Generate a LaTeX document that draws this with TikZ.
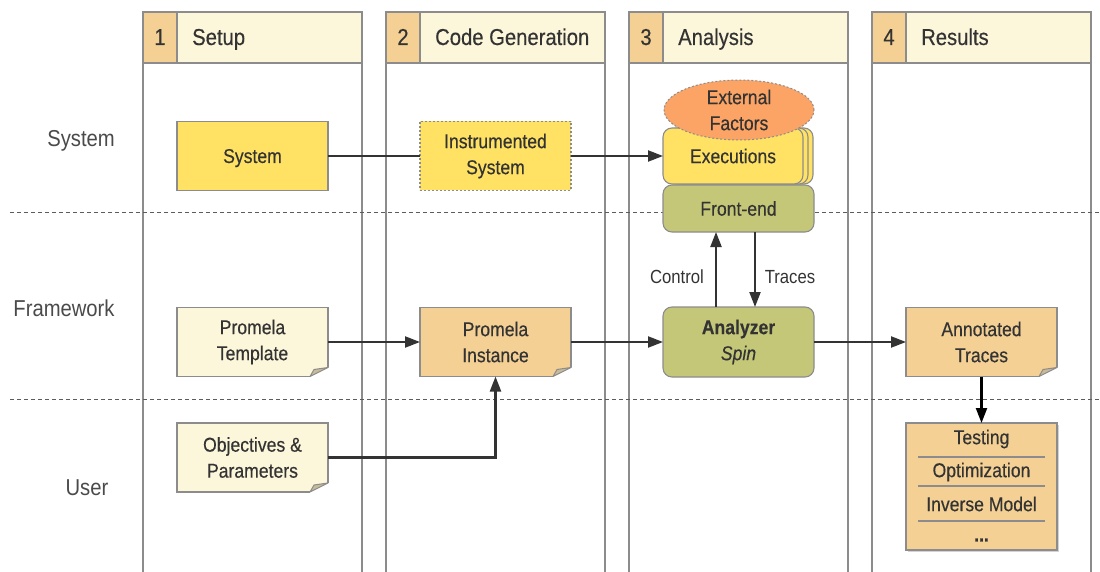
\documentclass[tikz,border=0pt]{standalone}
\usepackage{fontspec}
\setmainfont{Liberation Sans}[FakeStretch=0.88, FakeBold=0.35]
\newfontfamily\lightfont{Liberation Sans}[FakeStretch=0.88]
\usetikzlibrary{shapes.geometric,shadows,arrows.meta,calc}

\definecolor{ink}{HTML}{333333}
\definecolor{edge}{HTML}{8C8C8C}
\definecolor{cream}{HTML}{FCF6DA}
\definecolor{tan}{HTML}{F4D094}
\definecolor{yel}{HTML}{FFE264}
\definecolor{olive}{HTML}{C5C778}
\definecolor{salmon}{HTML}{FBA466}
\definecolor{foldc}{HTML}{C9BB98}
\definecolor{rowink}{HTML}{4A4A4A}

% folded page corner at the lower right of a note node
\newcommand\foldcorner[1]{%
  \fill[white] ($(#1.south east)+(-18,0)$) -- ($(#1.south east)+(0,-9)$)
     -- ($(#1.south east)+(1.6,-9)$) -- ($(#1.south east)+(1.6,1.6)$)
     -- ($(#1.south east)+(-18,1.6)$) -- cycle;
  \filldraw[fill=foldc, draw=edge, line width=1pt, line join=round]
     ($(#1.south east)+(-18,0)$) -- ($(#1.south east)+(-14,-7)$)
     -- ($(#1.south east)+(0,-9)$) -- cycle;
}

\begin{document}
\begin{tikzpicture}[x=1pt,y=-1pt,
  lane/.style={draw=edge, line width=1.1pt},
  sep/.style={draw=ink!80, line width=1pt, dash pattern=on 4pt off 3pt},
  head/.style={draw=edge, line width=1.1pt, fill=cream},
  numbox/.style={draw=edge, line width=1.1pt, fill=tan},
  headtxt/.style={text=ink, font=\fontsize{23}{27}\selectfont, inner sep=0pt, anchor=base},
  rowlabel/.style={text=rowink, font=\lightfont\fontsize{23}{27}\selectfont, inner sep=0pt},
  box/.style={draw=edge, line width=1.1pt, minimum width=151pt, minimum height=69pt,
    align=center, text=ink, font=\fontsize{20}{26}\selectfont, inner sep=0pt, outer sep=0pt},
  note/.style={box},
  rbox/.style={box, rounded corners=9pt},
  line/.style={draw=ink, line width=2.2pt},
  conn/.style={line, -{Triangle[length=15pt,width=11pt]}},
  flowlabel/.style={text=ink, font=\lightfont\fontsize{19}{23}\selectfont, inner sep=0pt},
  listitem/.style={text=ink, font=\fontsize{20}{24}\selectfont, inner sep=0pt},
  listrule/.style={draw=edge, line width=1.1pt}
]
\useasboundingbox (0,0) rectangle (1100,572);

% swimlanes with their headers
\foreach \x/\n/\t in {143/1/Setup, 386/2/Code Generation, 629/3/Analysis, 872/4/Results}{
  \draw[lane] (\x,63) -- (\x,572);
  \draw[lane] (\x+219,63) -- (\x+219,572);
  \draw[head] (\x,12) rectangle (\x+219,63);
  \draw[numbox] (\x,12) rectangle (\x+34,63);
  \node[headtxt] at (\x+17,45) {\n};
  \node[headtxt, anchor=base west] at (\x+49,45) {\t};
}

% row separators
\draw[sep] (10,213) -- (1100,213);
\draw[sep] (10,399) -- (1100,399);

% row labels
\node[rowlabel] (rsys) at (81,141) {System};
\node[rowlabel] (rfw) at (64,308) {Framework};
\node[rowlabel] (rusr) at (87,488) {User};

% system row
\node[box, fill=yel, text depth=0pt] (sys) at (252.5,156) {System};
\node[box, fill=yel, dash pattern=on 2pt off 2pt] (ins) at (495.5,156) {Instrumented\\System};
\node[box, fill=yel, rounded corners=9pt, minimum width=140pt, minimum height=56pt,
  double copy shadow={shadow xshift=5pt, shadow yshift=0pt, fill=yel, draw=edge, line width=1.1pt}]
  (exe) at (733,156) {Executions};
\node[ellipse, draw=edge, line width=1pt, dash pattern=on 2pt off 2pt, fill=salmon,
  minimum width=150pt, minimum height=60pt, inner sep=0pt, align=center, text=ink,
  font=\fontsize{20}{26}\selectfont] (ext) at (739,110) {External\\Factors};
\node[rbox, fill=olive, minimum height=47pt] (fe) at (738.5,208.5) {Front-end};

% framework row
\node[note, fill=cream] (tpl) at (252.5,342) {Promela\\Template};
\node[note, fill=tan] (inst) at (495.5,342) {Promela\\Instance};
\node[rbox, fill=olive, minimum height=70pt] (ana) at (738.5,342)
  {\textbf{Analyzer}\\\textit{Spin}};
\node[note, fill=tan] (ann) at (981.5,342) {Annotated\\Traces};

% user row
\node[note, fill=cream] (obj) at (252.5,457.5) {Objectives \&\\Parameters};
\node[box, fill=tan, minimum height=127pt,
  drop shadow={shadow xshift=2pt, shadow yshift=-2pt, opacity=0.35}] (res) at (981.5,486.5) {};
\node[listitem] (i1) at (981.5,439) {Testing};
\node[listitem] (i2) at (981.5,472) {Optimization};
\node[listitem] (i3) at (981.5,504) {Inverse Model};
\node[listitem] (i4) at (981.5,540) {\textbf{...}};
\draw[listrule] ($(res.west)+(12,-29.5)$) -- ($(res.east)+(-12,-29.5)$);
\draw[listrule] ($(res.west)+(12,-0.5)$) -- ($(res.east)+(-12,-0.5)$);
\draw[listrule] ($(res.west)+(12,34.5)$) -- ($(res.east)+(-12,34.5)$);

\foldcorner{tpl}
\foldcorner{inst}
\foldcorner{ann}
\foldcorner{obj}

% connectors
\draw[line] (sys.east) -- (ins.west);
\draw[conn] (ins.east) -- (exe.west);
\draw[conn] (tpl.east) -- (inst.west);
\draw[conn] (inst.east) -- (ana.west);
\draw[conn] (ana.east) -- (ann.west);
\draw[conn] (obj.east) -| (inst.south);
\draw[conn, draw=black] (ann.south) -- (res.north);
\draw[conn] ($(ana.north west)+(53,0)$) -- ($(fe.south west)+(53,0)$);
\draw[conn] ($(fe.south west)+(92,0)$) -- ($(ana.north west)+(92,0)$);
\node[flowlabel] (lctl) at (677,277) {Control};
\node[flowlabel] (ltr) at (790,277) {Traces};
\end{tikzpicture}
\end{document}
